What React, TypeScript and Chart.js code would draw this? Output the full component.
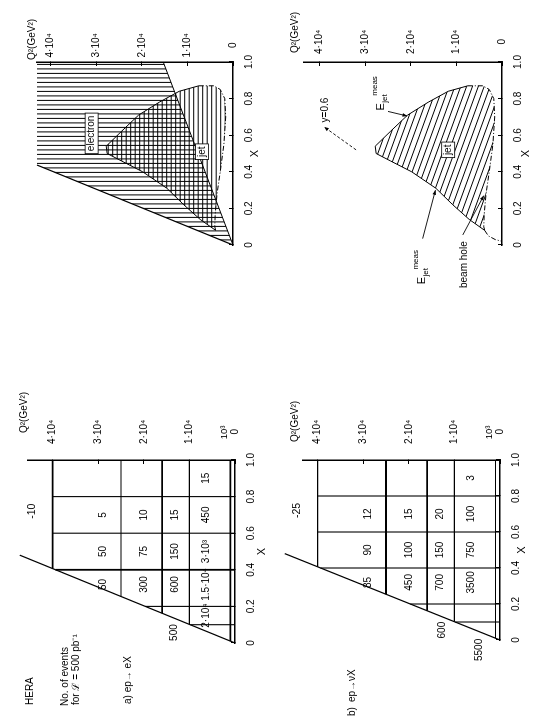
import React, { useEffect, useRef } from "react";
import { Chart, registerables } from "chart.js";

Chart.register(...registerables);

const FONT = '"Liberation Sans", Arial, Helvetica, sans-serif';

// The sheet is drawn landscape and shown turned a quarter-turn anticlockwise.
const SHEET_W = 719;
const SHEET_H = 537;
const Q2_PX = 45.6 / 1e4; // pixels per GeV² on every Q² axis
const X_AXIS_BOX = 30; // room kept for the x tick labels
const Q2_AXIS_BOX = 50; // room kept for the Q² tick labels

/* ---------- axis ticks ---------- */
const xTickValues = [0, 0.2, 0.4, 0.6, 0.8, 1.0];
const xTickLabels = ["0", "0.2", "0.4", "0.6", "0.8", "1.0"];
const q2TickValues = [0, 1e4, 2e4, 3e4, 4e4];
const q2TickLabels = ["0", "1·10⁴", "2·10⁴", "3·10⁴", "4·10⁴"];

/* ---------- kinematic limit y = 1 ---------- */
const sHera = 98400; // GeV², 30 GeV electrons on 820 GeV protons
const kinLimitX = [0, 0.48];
const kinLimitQ2 = [0, 4.72e4];

/* ---------- event tables, 500 pb⁻¹ ---------- */
const binXEdges = [0.1, 0.2, 0.4, 0.6, 0.8, 1.0];
const binQ2Edges = [1e3, 1e4, 1.6e4, 2.5e4, 4e4];
const binXLabelAt = [0.15, 0.32, 0.5, 0.7, 0.9];
const binQ2LabelAt = [0.62e4, 1.3e4, 2.0e4, 2.9e4];

// a) ep → eX : one array per Q² bin (low → high), one entry per x bin
const eXQ2Bin1 = ["2·10⁴", "1.5·10⁴", "3·10³", "450", "15"];
const eXQ2Bin2 = ["", "600", "150", "15", ""];
const eXQ2Bin3 = ["", "300", "75", "10", ""];
const eXQ2Bin4 = ["", "50", "50", "5", ""];
const eXAbove = "-10";
const eXEdgeLabels = ["500"];
const eXEdgeX = [0.057];
const eXEdgeQ2 = [1.33e4];

// b) ep → νX
const nuXQ2Bin1 = ["", "3500", "750", "100", "3"];
const nuXQ2Bin2 = ["", "700", "150", "20", ""];
const nuXQ2Bin3 = ["", "450", "100", "15", ""];
const nuXQ2Bin4 = ["", "85", "90", "12", ""];
const nuXAbove = "-25";
const nuXEdgeLabels = ["600", "5500"];
const nuXEdgeX = [0.055, -0.055];
const nuXEdgeQ2 = [1.27e4, 0.46e4];

const aboveX = 0.72;
const aboveQ2 = 4.45e4;

/* ---------- measurement regions ---------- */
const electronRegionX = [0, 0.437, 1.0, 1.0];
const electronRegionQ2 = [0, 4.3e4, 4.3e4, 1.53e4];
const electronCutX = [0, 1.0];
const electronCutQ2 = [0, 1.53e4];

const jetRegionX = [0.08, 0.14, 0.22, 0.31, 0.4, 0.46, 0.5, 0.54, 0.62, 0.71, 0.78, 0.84, 0.87, 0.87, 0.85, 0.8, 0.7, 0.55, 0.4, 0.28, 0.17, 0.1, 0.08];
const jetRegionQ2 = [0.38e4, 0.72e4, 1.08e4, 1.45e4, 1.98e4, 2.45e4, 2.76e4, 2.78e4, 2.45e4, 2.07e4, 1.62e4, 1.18e4, 0.75e4, 0.42e4, 0.28e4, 0.18e4, 0.16e4, 0.2e4, 0.28e4, 0.35e4, 0.39e4, 0.4e4, 0.38e4];
const JET_SOLID_END = 12;

const beamHoleTailX = [0.08, 0.05, 0.03, 0.02];
const beamHoleTailQ2 = [0.38e4, 0.3e4, 0.15e4, 0];

const yCutArrowX = [0.52, 0.645];
const yCutArrowQ2 = [3.2e4, 3.9e4];
const ejetUpperArrowX = [0.73, 0.705];
const ejetUpperArrowQ2 = [2.5e4, 2.08e4];
const ejetLowerArrowX = [0.035, 0.3];
const ejetLowerArrowQ2 = [1.74e4, 1.46e4];
const beamHoleArrowX = [0.055, 0.27];
const beamHoleArrowQ2 = [0.86e4, 0.4e4];

/* ---------- panel frames (landscape sheet pixels) ---------- */
type Frame = {
  x0: number;
  x1: number;
  q2Zero: number;
  q2Max: number;
  tickPad: number;
  titleDx: number;
  titleDy: number;
  xTitleGap: number;
};

const frameElectron: Frame = { x0: 474, x1: 657, q2Zero: 233, q2Max: 4.3e4, tickPad: 8.5, titleDx: 2, titleDy: -5, xTitleGap: 22 };
const frameJet: Frame = { x0: 474, x1: 657, q2Zero: 502, q2Max: 4.35e4, tickPad: 12, titleDx: 9, titleDy: -8, xTitleGap: 24 };
const frameEX: Frame = { x0: 76, x1: 259, q2Zero: 235, q2Max: 4.55e4, tickPad: 20, titleDx: 27, titleDy: -3, xTitleGap: 27 };
const frameNuX: Frame = { x0: 79, x1: 259, q2Zero: 500, q2Max: 4.32e4, tickPad: 20, titleDx: 18, titleDy: -8, xTitleGap: 22 };

/* ---------- drawing helpers ---------- */
function text(ctx: CanvasRenderingContext2D, s: string, x: number, y: number, size = 10, align: CanvasTextAlign = "center") {
  ctx.font = `${size}px ${FONT}`;
  ctx.textAlign = align;
  ctx.textBaseline = "middle";
  ctx.fillStyle = "#000";
  ctx.fillText(s, x, y);
  return ctx.measureText(s).width;
}

function px(chart: any, x: number, q2: number): [number, number] {
  return [chart.scales.x.getPixelForValue(x), chart.scales.y.getPixelForValue(q2)];
}

function hatch(chart: any, xs: number[], qs: number[], spacing: number, angleDeg: number, width = 1) {
  const ctx = chart.ctx as CanvasRenderingContext2D;
  const pts = xs.map((x, i) => px(chart, x, qs[i]));
  const us = pts.map((p) => p[0]);
  const vs = pts.map((p) => p[1]);
  const minU = Math.min(...us), maxU = Math.max(...us);
  const minV = Math.min(...vs), maxV = Math.max(...vs);
  const cu = (minU + maxU) / 2, cv = (minV + maxV) / 2;
  const r = Math.hypot(maxU - minU, maxV - minV) / 2 + spacing;
  const a = (angleDeg * Math.PI) / 180;
  const du = Math.cos(a), dv = Math.sin(a);
  ctx.save();
  ctx.beginPath();
  pts.forEach(([u, v], i) => (i ? ctx.lineTo(u, v) : ctx.moveTo(u, v)));
  ctx.closePath();
  ctx.clip();
  ctx.beginPath();
  for (let t = -r; t <= r; t += spacing) {
    const ou = cu - dv * t, ov = cv + du * t;
    ctx.moveTo(ou - du * r, ov - dv * r);
    ctx.lineTo(ou + du * r, ov + dv * r);
  }
  ctx.strokeStyle = "#000";
  ctx.lineWidth = width;
  ctx.stroke();
  ctx.restore();
}

function boxedLabel(chart: any, s: string, x: number, q2: number, size = 10) {
  const ctx = chart.ctx as CanvasRenderingContext2D;
  const [u, v] = px(chart, x, q2);
  ctx.save();
  ctx.font = `${size}px ${FONT}`;
  const w = ctx.measureText(s).width + 5;
  const h = size + 3;
  ctx.fillStyle = "#fff";
  ctx.fillRect(u - w / 2, v - h / 2, w, h);
  ctx.strokeStyle = "#000";
  ctx.lineWidth = 0.8;
  ctx.strokeRect(u - w / 2, v - h / 2, w, h);
  text(ctx, s, u, v, size);
  ctx.restore();
}

function arrowHead(chart: any, xs: number[], qs: number[], size = 5) {
  const ctx = chart.ctx as CanvasRenderingContext2D;
  const n = xs.length;
  const [u1, v1] = px(chart, xs[n - 2], qs[n - 2]);
  const [u2, v2] = px(chart, xs[n - 1], qs[n - 1]);
  const a = Math.atan2(v2 - v1, u2 - u1);
  ctx.save();
  ctx.fillStyle = "#000";
  ctx.beginPath();
  ctx.moveTo(u2, v2);
  ctx.lineTo(u2 - size * Math.cos(a - 0.38), v2 - size * Math.sin(a - 0.38));
  ctx.lineTo(u2 - size * Math.cos(a + 0.38), v2 - size * Math.sin(a + 0.38));
  ctx.closePath();
  ctx.fill();
  ctx.restore();
}

function eJetMeas(ctx: CanvasRenderingContext2D, u: number, v: number) {
  const wE = text(ctx, "E", u, v, 11, "left");
  const wj = text(ctx, "jet", u + wE + 0.5, v + 4, 8, "left");
  text(ctx, "meas", u + wE + wj - 1, v - 6, 8, "left");
}

function lineDs(xs: number[], qs: number[], width = 1.2, dash: number[] = []) {
  return {
    data: xs.map((x, i) => ({ x, y: qs[i] })),
    showLine: true,
    borderColor: "#000",
    borderWidth: width,
    borderDash: dash,
    pointRadius: 0,
    pointHoverRadius: 0,
    fill: false,
    tension: 0,
    clip: false as const,
  };
}

function tableGrid(heavyQ2: number[], heavyX: number[]) {
  const ds: any[] = [];
  const q2Top = binQ2Edges[binQ2Edges.length - 1];
  binXEdges
    .filter((e) => e < 1)
    .forEach((e) => ds.push(lineDs([e, e], [0, Math.min(sHera * e, q2Top)], heavyX.includes(e) ? 1.8 : 1.1)));
  binQ2Edges.forEach((q) => ds.push(lineDs([q / sHera, 1], [q, q], heavyQ2.includes(q) ? 1.8 : 1.1)));
  ds.push(lineDs(kinLimitX, kinLimitQ2, 1.2));
  return ds;
}

function axisTitles(f: Frame) {
  return {
    id: "axisTitles",
    afterDraw(chart: any) {
      const { ctx, chartArea } = chart;
      ctx.save();
      text(ctx, "X", chart.scales.x.getPixelForValue(0.5), chartArea.bottom + f.xTitleGap, 11);
      text(ctx, "Q²(GeV²)", chartArea.right + f.titleDx, chartArea.top + f.titleDy, 10, "left");
      ctx.restore();
    },
  };
}

function options(f: Frame): any {
  const tickFont = { family: FONT, size: 10 };
  const grid = { display: true, drawOnChartArea: false, drawTicks: true, tickLength: -4, color: "#000", lineWidth: 1 };
  const border = { display: true, color: "#000", width: 1.5 };
  return {
    responsive: false,
    animation: false,
    events: [],
    layout: {
      padding: {
        left: f.x0,
        right: SHEET_W - f.x1 - Q2_AXIS_BOX,
        top: f.q2Zero - f.q2Max * Q2_PX,
        bottom: SHEET_H - f.q2Zero - X_AXIS_BOX,
      },
    },
    plugins: { legend: { display: false }, tooltip: { enabled: false }, title: { display: false } },
    scales: {
      x: {
        type: "linear",
        position: "bottom",
        min: 0,
        max: 1,
        afterFit: (s: any) => {
          s.height = X_AXIS_BOX;
        },
        afterBuildTicks: (s: any) => {
          s.ticks = xTickValues.map((value) => ({ value }));
        },
        ticks: {
          autoSkip: false,
          minRotation: 0,
          maxRotation: 0,
          padding: 14,
          color: "#000",
          font: tickFont,
          callback: (_v: any, i: number) => xTickLabels[i],
        },
        grid,
        border,
      },
      y: {
        type: "linear",
        position: "right",
        min: 0,
        max: f.q2Max,
        afterFit: (s: any) => {
          s.width = Q2_AXIS_BOX;
        },
        afterBuildTicks: (s: any) => {
          s.ticks = q2TickValues.map((value) => ({ value }));
        },
        ticks: {
          autoSkip: false,
          crossAlign: "center",
          padding: f.tickPad,
          color: "#000",
          font: tickFont,
          callback: (_v: any, i: number) => q2TickLabels[i],
        },
        grid,
        border,
      },
    },
  };
}

/* ---------- table panels ---------- */
function tablePlugin(
  f: Frame,
  rows: string[][],
  edgeLabels: string[],
  edgeX: number[],
  edgeQ2: number[],
  above: string,
  captions: (ctx: CanvasRenderingContext2D) => void
) {
  return {
    id: "tableText",
    afterDraw(chart: any) {
      const ctx = chart.ctx as CanvasRenderingContext2D;
      ctx.save();
      rows.forEach((row, r) =>
        row.forEach((s, c) => {
          if (!s) return;
          const [u, v] = px(chart, binXLabelAt[c], binQ2LabelAt[r]);
          text(ctx, s, u, v, 10);
        })
      );
      edgeLabels.forEach((s, i) => {
        const [u, v] = px(chart, edgeX[i], edgeQ2[i]);
        text(ctx, s, u, v, 10);
      });
      const [au, av] = px(chart, aboveX, aboveQ2);
      text(ctx, above, au, av, 10.5);
      // 10³ sits just above the zero label of the Q² axis
      const [, v3] = px(chart, 1, binQ2Edges[0]);
      text(ctx, "10³", chart.chartArea.right + f.tickPad + 7.5, v3 - 6, 9.5);
      captions(ctx);
      ctx.restore();
    },
  };
}

function buildEX() {
  return {
    type: "scatter",
    data: { datasets: tableGrid([4e4, 1.6e4, 1e3], [0.4]) },
    options: options(frameEX),
    plugins: [
      axisTitles(frameEX),
      tablePlugin(frameEX, [eXQ2Bin1, eXQ2Bin2, eXQ2Bin3, eXQ2Bin4], eXEdgeLabels, eXEdgeX, eXEdgeQ2, eXAbove, (ctx) => {
        text(ctx, "HERA", 14, 30, 10, "left");
        text(ctx, "No. of events", 13, 65, 10, "left");
        text(ctx, "for ℒ = 500 pb⁻¹", 14, 76, 10, "left");
        text(ctx, "a) ep→ eX", 15, 128, 10, "left");
      }),
    ],
  };
}

function buildNuX() {
  return {
    type: "scatter",
    data: { datasets: tableGrid([2.5e4, 1.6e4], []) },
    options: options(frameNuX),
    plugins: [
      axisTitles(frameNuX),
      tablePlugin(frameNuX, [nuXQ2Bin1, nuXQ2Bin2, nuXQ2Bin3, nuXQ2Bin4], nuXEdgeLabels, nuXEdgeX, nuXEdgeQ2, nuXAbove, (ctx) => {
        text(ctx, "b)", 3, 352, 10, "left");
        text(ctx, "ep→νX", 17, 352, 10, "left");
      }),
    ],
  };
}

/* ---------- region panels ---------- */
function jetOutline() {
  return [
    lineDs(jetRegionX.slice(0, JET_SOLID_END + 1), jetRegionQ2.slice(0, JET_SOLID_END + 1), 1),
    lineDs(jetRegionX.slice(JET_SOLID_END), jetRegionQ2.slice(JET_SOLID_END), 1, [5, 2, 1, 2]),
  ];
}

function buildElectron() {
  return {
    type: "scatter",
    data: {
      datasets: [
        lineDs(electronRegionX.slice(0, 2), electronRegionQ2.slice(0, 2), 1.2),
        lineDs(electronCutX, electronCutQ2, 1),
        ...jetOutline(),
      ],
    },
    options: options(frameElectron),
    plugins: [
      axisTitles(frameElectron),
      {
        id: "regions",
        beforeDatasetsDraw(chart: any) {
          hatch(chart, electronRegionX, electronRegionQ2, 4.5, 90, 1);
          hatch(chart, jetRegionX, jetRegionQ2, 4.5, 0, 1);
        },
        afterDatasetsDraw(chart: any) {
          boxedLabel(chart, "electron", 0.61, 3.1e4);
          boxedLabel(chart, "jet", 0.51, 0.68e4);
        },
      },
    ],
  };
}

function buildJet() {
  return {
    type: "scatter",
    data: {
      datasets: [
        ...jetOutline(),
        lineDs(beamHoleTailX, beamHoleTailQ2, 1, [5, 2, 1, 2]),
        lineDs(yCutArrowX, yCutArrowQ2, 0.9, [3, 2]),
        lineDs(ejetUpperArrowX, ejetUpperArrowQ2, 0.9),
        lineDs(ejetLowerArrowX, ejetLowerArrowQ2, 0.9),
        lineDs(beamHoleArrowX, beamHoleArrowQ2, 0.9),
      ],
    },
    options: options(frameJet),
    plugins: [
      axisTitles(frameJet),
      {
        id: "regions",
        beforeDatasetsDraw(chart: any) {
          hatch(chart, jetRegionX, jetRegionQ2, 5.5, 20, 1);
        },
        afterDatasetsDraw(chart: any) {
          const ctx = chart.ctx as CanvasRenderingContext2D;
          boxedLabel(chart, "jet", 0.52, 1.18e4);
          arrowHead(chart, yCutArrowX, yCutArrowQ2);
          arrowHead(chart, ejetUpperArrowX, ejetUpperArrowQ2);
          arrowHead(chart, ejetLowerArrowX, ejetLowerArrowQ2);
          arrowHead(chart, beamHoleArrowX, beamHoleArrowQ2);
          ctx.save();
          const [yu, yv] = px(chart, 0.67, 3.88e4);
          text(ctx, "y=0.6", yu, yv, 10, "left");
          const [eu, ev] = px(chart, 0.735, 2.66e4);
          eJetMeas(ctx, eu, ev);
          const [lu, lv] = px(chart, -0.215, 1.76e4);
          eJetMeas(ctx, lu, lv);
          const [bu, bv] = px(chart, -0.235, 0.82e4);
          text(ctx, "beam hole", bu, bv, 10, "left");
          ctx.restore();
        },
      },
    ],
  };
}

/* ---------- components ---------- */
function Panel({ build }: { build: () => any }) {
  const ref = useRef<HTMLCanvasElement>(null);
  useEffect(() => {
    const chart = new Chart(ref.current as HTMLCanvasElement, build());
    return () => chart.destroy();
  }, [build]);
  return (
    <canvas
      ref={ref}
      width={SHEET_W}
      height={SHEET_H}
      style={{ position: "absolute", left: 0, top: 0, width: SHEET_W, height: SHEET_H }}
    />
  );
}

export default function App() {
  return (
    <div style={{ position: "fixed", left: 0, top: 0, width: SHEET_H, height: SHEET_W, overflow: "hidden", background: "#fff" }}>
      <div
        style={{
          position: "absolute",
          left: 0,
          top: 0,
          width: SHEET_W,
          height: SHEET_H,
          transformOrigin: "0 0",
          transform: `translateY(${SHEET_W}px) rotate(-90deg)`,
        }}
      >
        <Panel build={buildEX} />
        <Panel build={buildNuX} />
        <Panel build={buildElectron} />
        <Panel build={buildJet} />
      </div>
    </div>
  );
}
